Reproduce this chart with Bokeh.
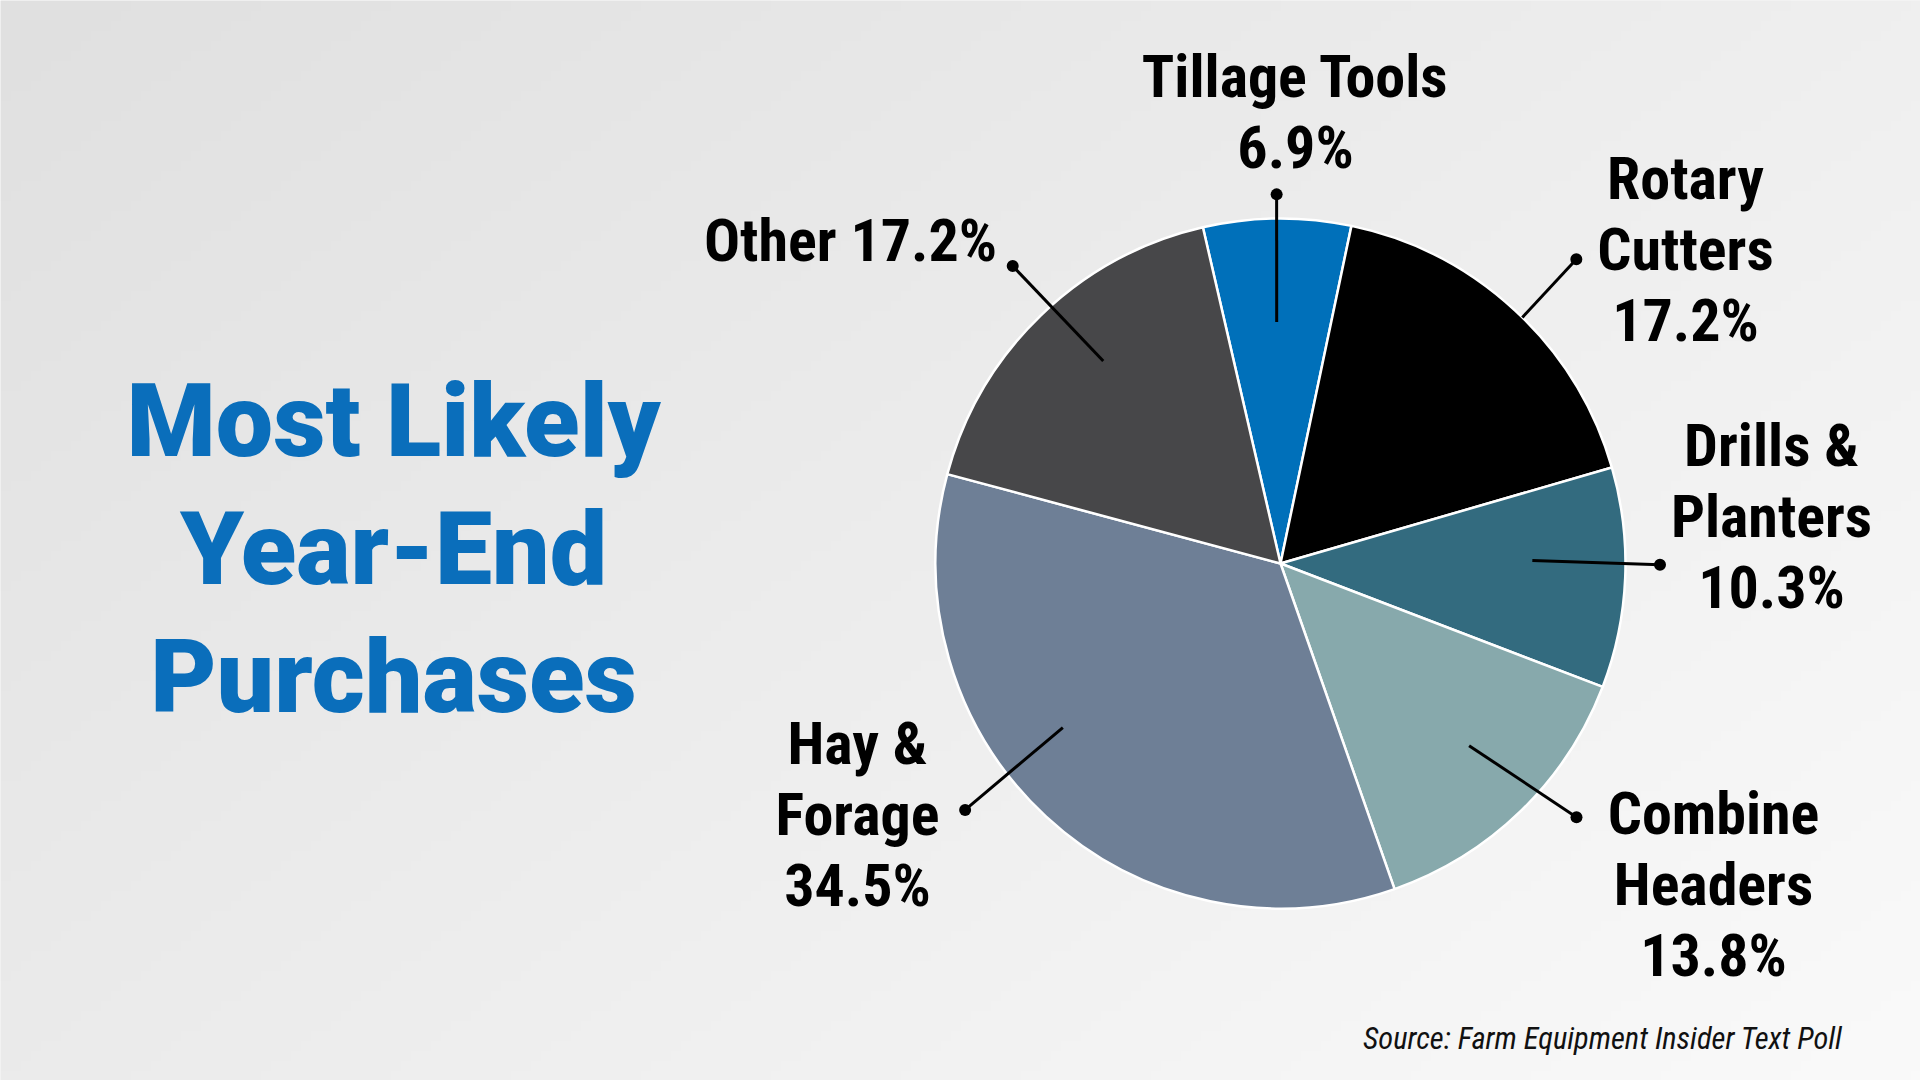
import numpy as np
from bokeh.plotting import figure
from bokeh.models import Range1d
from bokeh.core.properties import value
from bokeh.embed import file_html
from bokeh.resources import INLINE

# ---- data ----
categories = ["Tillage Tools", "Rotary Cutters", "Drills & Planters",
              "Combine Headers", "Hay & Forage", "Other"]
shares = [6.9, 17.2, 10.3, 13.8, 34.5, 17.2]
label_texts = ["Tillage Tools\n6.9%", "Rotary\nCutters\n17.2%", "Drills &\nPlanters\n10.3%",
               "Combine\nHeaders\n13.8%", "Hay &\nForage\n34.5%", "Other 17.2%"]
colors = ["#0070ba", "#000000", "#336b7f", "#87a9ac", "#6e7f96", "#474749"]
title_lines = ["Most Likely", "Year-End", "Purchases"]
source_text = "Source: Farm Equipment Insider Text Poll"

# ---- layout ----
W, H = 1920, 1080
CX, CY, R = 1280, H - 563, 345
START = -13.0  # degrees clockwise from 12 o'clock where first slice begins
label_x = [1295, 1685, 1771, 1713, 857, 850]
label_y0 = [98, 200, 467, 835, 765, 262]    # first baseline, px from top
LINE_H = 71
lead_a0 = [-0.9, 44.5, 89.3, 134.0, 233.0, 318.8]
lead_r0 = [0.70, 1.00, 0.73, 0.76, 0.79, 0.78]
lead_a1 = [-0.6, 44.2, 90.2, 130.6, 232.0, 318.0]
lead_r1 = [1.07, 1.23, 1.10, 1.13, 1.16, 1.16]
BASE_FIX = 0.36  # renderer baseline correction, fraction of font size

LABEL_FONT = "Roboto Condensed"
TITLE_FONT = "Roboto Black"
LABEL_SIZE, TITLE_SIZE, SOURCE_SIZE = 60, 102, 30.5

def sy(y_top, size):
    return H - (y_top - BASE_FIX * size)

p = figure(width=W, height=H, output_backend="svg", toolbar_location=None,
           x_range=Range1d(0, W), y_range=Range1d(0, H), min_border=0,
           outline_line_color=None)
p.axis.visible = False
p.grid.visible = False
p.background_fill_color = "#ececec"
p.border_fill_color = "#ececec"

# background diagonal gradient (row 0 = bottom)
gh, gw = 108, 192
yy, xx = np.mgrid[0:gh, 0:gw]
c = (224 + 15 * xx / (gw - 1) + 11 * (1 - yy / (gh - 1))).astype(np.uint32)
img = (np.uint32(255) << 24) | (c << 16) | (c << 8) | c
p.image_rgba(image=[img.astype(np.uint32)], x=0, y=0, dw=W, dh=H)

# wedges
tot = sum(shares)
cum = START
starts, ends = [], []
for s in shares:
    a0 = cum
    a1 = cum + s / tot * 360.0
    starts.append(np.deg2rad(90 - a0))
    ends.append(np.deg2rad(90 - a1))
    cum = a1
p.wedge(x=CX, y=CY, radius=R, start_angle=starts, end_angle=ends,
        direction="clock", fill_color=colors, line_color="white", line_width=2.5)

# leader lines
def pt(a, r):
    t = np.deg2rad(a)
    return CX + r * R * np.sin(t), CY + r * R * np.cos(t)

xs, ys, dx, dy = [], [], [], []
for a0, r0, a1, r1 in zip(lead_a0, lead_r0, lead_a1, lead_r1):
    x0, y0 = pt(a0, r0)
    x1, y1 = pt(a1, r1)
    xs.append([x0, x1]); ys.append([y0, y1])
    dx.append(x1); dy.append(y1)
p.multi_line(xs=xs, ys=ys, line_color="black", line_width=3)
p.scatter(x=dx, y=dy, size=12, fill_color="black", line_color=None)

# labels
tx, ty, tt = [], [], []
for lx, ly, txt in zip(label_x, label_y0, label_texts):
    for i, line in enumerate(txt.split("\n")):
        tx.append(lx); ty.append(sy(ly + i * LINE_H, LABEL_SIZE)); tt.append(line)
p.text(x=tx, y=ty, text=tt, text_align="center", text_baseline="alphabetic",
       text_font=value(LABEL_FONT), text_font_style="bold",
       text_font_size=f"{LABEL_SIZE}px", text_color="black")

# source
p.text(x=[1842], y=[sy(1049, SOURCE_SIZE)], text=[source_text], text_align="right",
       text_baseline="alphabetic", text_font=value(LABEL_FONT),
       text_font_style="italic", text_font_size=f"{SOURCE_SIZE}px", text_color="#111111")

# title
p.text(x=[393] * 3, y=[sy(457, TITLE_SIZE), sy(585, TITLE_SIZE), sy(713, TITLE_SIZE)],
       text=title_lines, text_align="center", text_baseline="alphabetic",
       text_font=value(TITLE_FONT), text_font_style="bold",
       text_font_size=f"{TITLE_SIZE}px", text_color="#0a6ebb")

open("out.html", "w").write(file_html(p, INLINE))
